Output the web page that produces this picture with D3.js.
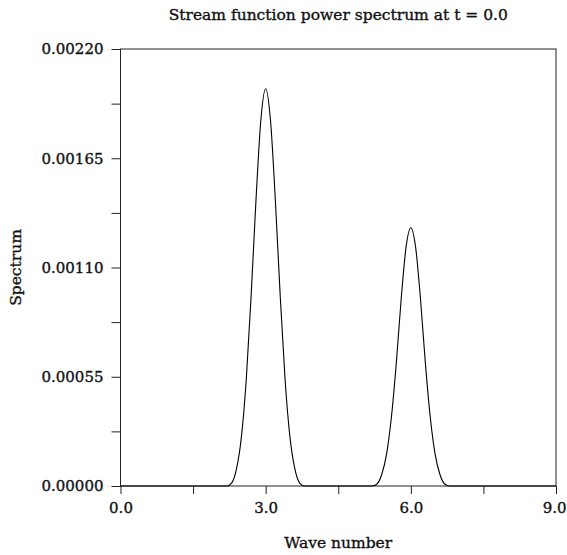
<!DOCTYPE html>
<html>
<head>
<meta charset="utf-8">
<script src="https://cdn.jsdelivr.net/npm/d3@7"></script>
<style>
  html, body { margin: 0; padding: 0; background: #fff; }
  svg text { font-family: "DejaVu Serif", serif; fill: #111; stroke: #111; stroke-width: 0.35px; }
</style>
</head>
<body>
<svg id="chart" width="567" height="555"></svg>
<script>
const titleText = "Stream function power spectrum at t = 0.0";
const xLabel = "Wave number";
const yLabel = "Spectrum";

const waveNumber = [
  0.0,0.1,0.2,0.3,0.4,0.5,0.6,0.7,0.8,0.9,
  1.0,1.1,1.2,1.3,1.4,1.5,1.6,1.7,1.8,1.9,
  2.0,2.1,2.2,2.3,2.4,2.5,2.6,2.7,2.8,2.9,
  3.0,3.1,3.2,3.3,3.4,3.5,3.6,3.7,3.8,3.9,
  4.0,4.1,4.2,4.3,4.4,4.5,4.6,4.7,4.8,4.9,
  5.0,5.1,5.2,5.3,5.4,5.5,5.6,5.7,5.8,5.9,
  6.0,6.1,6.2,6.3,6.4,6.5,6.6,6.7,6.8,6.9,
  7.0,7.1,7.2,7.3,7.4,7.5,7.6,7.7,7.8,7.9,
  8.0,8.1,8.2,8.3,8.4,8.5,8.6,8.7,8.8,8.9,
  9.0
];
const spectrum = [
  0,0,0,0,0,0,0,0,0,0,
  0,0,0,0,0,0,0,0,0,0,
  0,0,0,0.000016,0.00009,0.00025,0.00054,0.00096,0.00144,0.00184,
  0.00200,0.00184,0.00144,0.00096,0.00054,0.00025,0.00009,0.000016,0,0,
  0,0,0,0,0,0,0,0,0,0,
  0,0,0,0.00001,0.000059,0.000163,0.00035,0.00062,0.00094,0.0012,
  0.0013,0.0012,0.00094,0.00062,0.00035,0.000163,0.000059,0.00001,0,0,
  0,0,0,0,0,0,0,0,0,0,
  0,0,0,0,0,0,0,0,0,0,
  0
];
const xMajorTicks = [0.0, 3.0, 6.0, 9.0];
const xMinorTicks = [1.5, 4.5, 7.5];
const yMajorTicks = [0.0, 0.00055, 0.0011, 0.00165, 0.0022];
const yMinorTicks = [0.000275, 0.000825, 0.001375, 0.001925];

const svg = d3.select("#chart");
const L = 120.5, R = 556, T = 49, B = 486;
const x = d3.scaleLinear().domain([0, 9]).range([L, R]);
const y = d3.scaleLinear().domain([0, 0.0022]).range([B, T]);

const axisColor = "#222";
const fs = 15.5;
const tickFs = 15;

// frame
svg.append("rect").attr("x", L).attr("y", T).attr("width", R - L).attr("height", B - T)
  .attr("fill", "none").attr("stroke", axisColor).attr("stroke-width", 1);

// x axis
const gx = svg.append("g").attr("transform", `translate(0,${B})`)
  .call(d3.axisBottom(x).tickValues(xMajorTicks).tickSize(8).tickPadding(8).tickFormat(d3.format(".1f")));
svg.append("g").attr("transform", `translate(0,${B})`)
  .call(d3.axisBottom(x).tickValues(xMinorTicks).tickSize(8).tickFormat(""));
// y axis
svg.append("g").attr("transform", `translate(${L},0)`)
  .call(d3.axisLeft(y).tickValues(yMajorTicks).tickSize(9).tickPadding(8).tickFormat(d3.format(".5f")));
svg.append("g").attr("transform", `translate(${L},0)`)
  .call(d3.axisLeft(y).tickValues(yMinorTicks).tickSize(9).tickFormat(""));

svg.selectAll(".domain").remove();
svg.selectAll(".tick line").attr("stroke", axisColor);
svg.selectAll(".tick text").attr("font-family", "DejaVu Serif, serif").attr("font-size", tickFs).attr("fill", "#111");
// keep the last x label inside the window
gx.selectAll(".tick text").filter(d => d === 9).attr("text-anchor", "end").attr("x", 566 - R);

// curve
svg.append("path")
  .datum(waveNumber.map((k, i) => [k, spectrum[i]]))
  .attr("fill", "none").attr("stroke", "#000").attr("stroke-width", 1.1)
  .attr("d", d3.line().x(d => x(d[0])).y(d => y(d[1])).curve(d3.curveMonotoneX));

// texts
svg.append("text").attr("x", (L + R) / 2).attr("y", 20).attr("text-anchor", "middle")
  .attr("font-size", fs).text(titleText);
svg.append("text").attr("x", (L + R) / 2).attr("y", 548).attr("text-anchor", "middle")
  .attr("font-size", fs).text(xLabel);
svg.append("text").attr("transform", `translate(21,${(T + B) / 2}) rotate(-90)`).attr("text-anchor", "middle")
  .attr("font-size", fs).text(yLabel);
</script>
</body>
</html>
